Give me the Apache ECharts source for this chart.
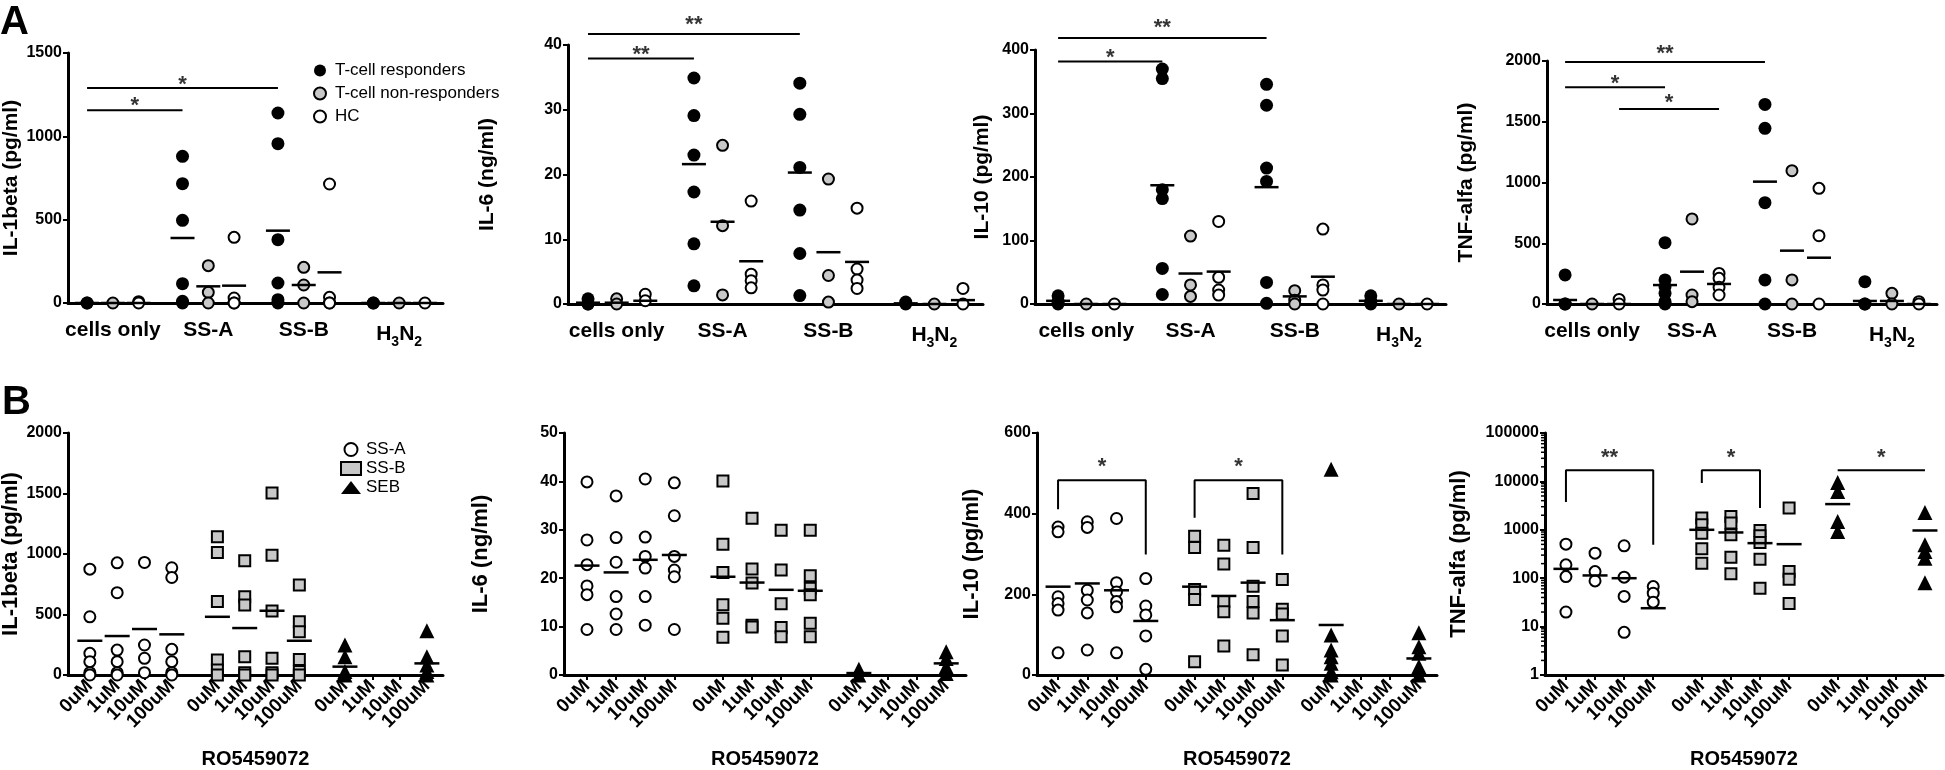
<!DOCTYPE html>
<html><head><meta charset="utf-8">
<script src="https://cdn.jsdelivr.net/npm/echarts@6/dist/echarts.min.js"></script>
<style>html,body{margin:0;padding:0;background:#fff}#c{width:1945px;height:770px}</style>
</head><body><div id="c"></div>
<script>
// ---------------- DATA ----------------
const A_GROUPS = ['cells only', 'SS-A', 'SS-B', 'H3N2'];
const A_SERIES = ['T-cell responders', 'T-cell non-responders', 'HC'];

// Panel A1: IL-1beta (pg/ml)
const A1_YTICKS = [0, 500, 1000, 1500];
const A1_RESP = [[0, 0], [880, 716, 496, 116, 10, 0], [1140, 956, 380, 120, 20, 0], [0, 0]];
const A1_RESP_LINE = [0, 390, 434, 0];
const A1_NONRESP = [[0], [224, 64, 0], [214, 108, 0], [0]];
const A1_NONRESP_LINE = [0, 100, 108, 0];
const A1_HC = [[8, 0], [394, 30, 0, 0], [714, 34, 0, 0], [0]];
const A1_HC_LINE = [0, 104, 184, 0];
const A1_SIG = [[0, 3, 1156, '*', 1210], [0, 6, 1290, '*', 1340]];

// Panel A2: IL-6 (ng/ml)
const A2_YTICKS = [0, 10, 20, 30, 40];
const A2_RESP = [[0.8, 0, 0], [34.9, 29.1, 23.0, 17.3, 9.3, 2.8], [34.1, 29.3, 21.1, 14.5, 7.8, 1.3], [0.3, 0]];
const A2_RESP_LINE = [0.2, 21.6, 20.3, 0.1];
const A2_NONRESP = [[0.8, 0], [24.5, 12.1, 1.4], [19.3, 4.4, 0.3], [0]];
const A2_NONRESP_LINE = [0.2, 12.7, 8.0, 0];
const A2_HC = [[1.5, 0.5], [15.9, 4.6, 3.6, 2.5], [14.8, 5.4, 3.7, 2.4], [2.4, 0]];
const A2_HC_LINE = [0.5, 6.6, 6.5, 0.6];
const A2_SIG = [[0, 3, 37.9, '**', 39.2], [0, 6, 41.7, '**', 43.9]];

// Panel A3: IL-10 (pg/ml)
const A3_YTICKS = [0, 100, 200, 300, 400];
const A3_RESP = [[13, 4, 0], [370, 355, 180, 166, 56, 15], [346, 313, 214, 193, 34, 1], [13, 4, 0]];
const A3_RESP_LINE = [5, 187, 184, 5];
const A3_NONRESP = [[0], [107, 30, 12], [21, 6, 0], [0]];
const A3_NONRESP_LINE = [0, 48, 12, 0];
const A3_HC = [[0], [130, 42, 22, 14], [118, 30, 22, 0], [0]];
const A3_HC_LINE = [0, 51, 43, 0];
const A3_SIG = [[0, 3, 382, '*', 395], [0, 6, 419, '**', 442]];

// Panel A4: TNF-alfa (pg/ml)
const A4_YTICKS = [0, 500, 1000, 1500, 2000];
const A4_RESP = [[239, 0, 0], [505, 198, 143, 88, 19, 0], [1643, 1446, 834, 198, 0], [184, 0, 0]];
const A4_RESP_LINE = [33, 156, 1007, 25];
const A4_NONRESP = [[0], [700, 74, 19], [1097, 198, 0], [88, 0]];
const A4_NONRESP_LINE = [0, 266, 439, 25];
const A4_HC = [[38, 0], [252, 211, 137, 74], [952, 562, 0], [19, 0]];
const A4_HC_LINE = [0, 165, 381, 0];
const A4_SIG = [[0, 6, 1992, '**', 2099], [0, 3, 1783, '*', 1852], [2, 5, 1605, '*', 1693]];

const B_SERIES = ['SS-A', 'SS-B', 'SEB'];
const B_DOSES = ['0uM', '1uM', '10uM', '100uM'];
const B_XNAME = 'RO5459072';

// Panel B1: IL-1beta (pg/ml)
const B1_YTICKS = [0, 500, 1000, 1500, 2000];
const B1_SSA = [[875, 481, 179, 110, 19, 0], [927, 680, 206, 110, 19, 0], [930, 248, 138, 19], [886, 806, 212, 110, 19, 0]];
const B1_SSA_LINE = [283, 322, 380, 336];
const B1_SSB = [[1142, 1012, 608, 124, 41, 0], [944, 646, 578, 151, 19, 0], [1505, 990, 528, 138, 19, 0], [743, 440, 358, 129, 28, 0]];
const B1_SSB_LINE = [481, 388, 531, 283];
const B1_SEB = [[248, 151, 28, 0], [], [], [366, 151, 83, 28, 0]];
const B1_SEB_LINE = [69, null, null, 96];
const B1_SIG = [];

// Panel B2: IL-6 (ng/ml)
const B2_YTICKS = [0, 10, 20, 30, 40, 50];
const B2_SSA = [[39.9, 27.9, 22.8, 18.4, 16.6, 9.4], [37.0, 28.4, 23.3, 16.2, 12.6, 9.4], [40.5, 28.5, 24.5, 22.1, 16.2, 10.3], [39.7, 32.9, 24.5, 21.7, 20.3, 9.4]];
const B2_SSA_LINE = [22.6, 21.2, 23.8, 24.8];
const B2_SSB = [[40.1, 27.0, 21.2, 14.5, 11.7, 7.8], [32.4, 21.9, 19.0, 10.3, 9.9], [29.9, 21.7, 14.7, 9.8, 7.9], [29.9, 20.5, 17.9, 16.6, 10.7, 7.9]];
const B2_SSB_LINE = [20.3, 19.1, 17.6, 17.4];
const B2_SEB = [[1.2, 0], [], [], [4.8, 3.4, 1.7, 0.3]];
const B2_SEB_LINE = [0.4, null, null, 2.4];
const B2_SIG = [];

// Panel B3: IL-10 (pg/ml)
const B3_YTICKS = [0, 200, 400, 600];
const B3_SSA = [[367, 355, 194, 177, 161, 55], [380, 366, 210, 186, 154, 62], [388, 229, 206, 182, 169, 55], [239, 171, 149, 97, 14]];
const B3_SSA_LINE = [219, 227, 210, 134];
const B3_SSB = [[344, 316, 212, 187, 33], [322, 275, 182, 157, 72], [450, 316, 220, 182, 154, 50], [237, 163, 151, 97, 25]];
const B3_SSB_LINE = [219, 196, 229, 136];
const B3_SEB = [[510, 99, 62, 45, 29, 8, 0], [], [], [105, 70, 54, 21, 0]];
const B3_SEB_LINE = [124, null, null, 41];
const B3_SIG = [[0, 3, 483, 411, 299, '*', 528], [4, 7, 483, 390, 299, '*', 528]];

// Panel B4: TNF-alfa (pg/ml), log scale
const B4_YTICKS = [1, 10, 100, 1000, 10000, 100000];
const B4_SSA = [[505, 189, 108, 20], [329, 137, 88], [467, 105, 42, 7.6], [67, 49, 32]];
const B4_SSA_LINE = [156, 114, 100, 24];
const B4_SSB = [[1743, 1268, 853, 405, 204], [1888, 1374, 788, 272, 123], [968, 751, 547, 247, 62], [2807, 137, 95, 30]];
const B4_SSB_LINE = [1000, 881, 530, 505];
const B4_SEB = [[9530, 6210, 1487, 924], [], [], [2285, 490, 356, 259, 81]];
const B4_SEB_LINE = [3396, null, null, 968];
const B4_SIG = [[0, 3, 16900, 3734, 490, '**', 38550], [4, 6, 16900, 9240, 2807, '*', 38550], [8, 11, 16900, 16900, 16900, '*', 38550]];
const B4_MINOR_TICKS = [2,3,4,5,6,7,8,9,20,30,40,50,60,70,80,90,200,300,400,500,600,700,800,900,2000,3000,4000,5000,6000,7000,8000,9000,20000,30000,40000,50000,60000,70000,80000,90000];

// ---------------- LAYOUT / STYLE ----------------
const FONT = '"Liberation Sans", Arial, Helvetica, sans-serif';
const A_STEP = 3.7, B_STEP = 4.67;
const GRIDS = [
  {left: 68, top: 53, width: 375, height: 250},
  {left: 568, top: 45, width: 415, height: 259},
  {left: 1035, top: 50, width: 411, height: 254},
  {left: 1547, top: 61, width: 390, height: 243},
  {left: 68, top: 433, width: 375, height: 242},
  {left: 564, top: 433, width: 402, height: 242},
  {left: 1037, top: 433, width: 400, height: 242},
  {left: 1545, top: 433, width: 398, height: 242}
];
const XRANGE = [[-0.74, 13.8], [-0.70, 13.8], [-0.82, 13.77], [-0.67, 13.77],
                [-0.8, 12.93], [-0.79, 13.02], [-0.72, 12.96], [-0.72, 12.96]];
const NAME_GAP = [46, 70, 42, 70, 46, 72, 54, 75];
const GREY = '#c8c8c8';

const A_STYLE = [
  {symbol: 'circle', size: 13, item: {color: '#000', borderColor: '#000', borderWidth: 0, opacity: 1}},
  {symbol: 'circle', size: 11, item: {color: GREY, borderColor: '#000', borderWidth: 2, opacity: 1}},
  {symbol: 'circle', size: 11, item: {color: '#fff', borderColor: '#000', borderWidth: 2, opacity: 1}}
];
const B_STYLE = [
  {symbol: 'circle', size: 11, item: {color: '#fff', borderColor: '#000', borderWidth: 2, opacity: 1}},
  {symbol: 'rect', size: 11, item: {color: GREY, borderColor: '#000', borderWidth: 2, opacity: 1}},
  {symbol: 'triangle', size: 15, item: {color: '#000', borderColor: '#000', borderWidth: 0, opacity: 1}}
];

const A_PANELS = [
  {name: 'IL-1beta (pg/ml)', ticks: A1_YTICKS, pts: [A1_RESP, A1_NONRESP, A1_HC], lines: [A1_RESP_LINE, A1_NONRESP_LINE, A1_HC_LINE], sig: A1_SIG},
  {name: 'IL-6 (ng/ml)', ticks: A2_YTICKS, pts: [A2_RESP, A2_NONRESP, A2_HC], lines: [A2_RESP_LINE, A2_NONRESP_LINE, A2_HC_LINE], sig: A2_SIG},
  {name: 'IL-10 (pg/ml)', ticks: A3_YTICKS, pts: [A3_RESP, A3_NONRESP, A3_HC], lines: [A3_RESP_LINE, A3_NONRESP_LINE, A3_HC_LINE], sig: A3_SIG},
  {name: 'TNF-alfa (pg/ml)', ticks: A4_YTICKS, pts: [A4_RESP, A4_NONRESP, A4_HC], lines: [A4_RESP_LINE, A4_NONRESP_LINE, A4_HC_LINE], sig: A4_SIG}
];
const B_PANELS = [
  {name: 'IL-1beta (pg/ml)', ticks: B1_YTICKS, pts: [B1_SSA, B1_SSB, B1_SEB], lines: [B1_SSA_LINE, B1_SSB_LINE, B1_SEB_LINE], sig: B1_SIG},
  {name: 'IL-6 (ng/ml)', ticks: B2_YTICKS, pts: [B2_SSA, B2_SSB, B2_SEB], lines: [B2_SSA_LINE, B2_SSB_LINE, B2_SEB_LINE], sig: B2_SIG},
  {name: 'IL-10 (pg/ml)', ticks: B3_YTICKS, pts: [B3_SSA, B3_SSB, B3_SEB], lines: [B3_SSA_LINE, B3_SSB_LINE, B3_SEB_LINE], sig: B3_SIG},
  {name: 'TNF-alfa (pg/ml)', ticks: B4_YTICKS, pts: [B4_SSA, B4_SSB, B4_SEB], lines: [B4_SSA_LINE, B4_SSB_LINE, B4_SEB_LINE], sig: B4_SIG, log: true}
];

const posA = (g, i) => g * A_STEP + i;
const posB = (g, i) => g * B_STEP + i;
const idxA = k => posA(Math.floor(k / 3), k % 3);
const idxB = k => posB(Math.floor(k / 4), k % 4);

const tickLabelStyle = {fontSize: 16, fontWeight: 'bold', color: '#000', fontFamily: FONT};

const grid = GRIDS.map(g => Object.assign({containLabel: false, outerBoundsMode: 'none'}, g));
const xAxis = [], yAxis = [], series = [];

function makeYAxis(p, panel, nameSize) {
  const t = panel.ticks;
  const ax = {
    gridIndex: p, name: panel.name, nameLocation: 'middle', nameGap: NAME_GAP[p],
    nameTextStyle: {fontSize: nameSize, fontWeight: 'bold', color: '#000', fontFamily: FONT},
    axisLine: {show: true, onZero: false, lineStyle: {color: '#000', width: 3}},
    axisTick: {show: true, length: 5, lineStyle: {color: '#000', width: 2}},
    axisLabel: Object.assign({margin: 6, formatter: v => String(v)}, tickLabelStyle),
    splitLine: {show: false}, min: t[0], max: t[t.length - 1]
  };
  if (panel.log) { ax.type = 'log'; ax.logBase = 10; }
  else { ax.type = 'value'; ax.interval = t[1] - t[0]; }
  return ax;
}

function addSig(p, sig, posFn, isBracket) {
  sig.forEach(s => {
    let x1 = posFn(s[0]), x2 = posFn(s[1]), data, txt, ty;
    if (isBracket) {
      data = [[x1, s[3]], [x1, s[2]], [x2, s[2]], [x2, s[4]]];
      txt = s[5]; ty = s[6];
    } else {
      data = [[x1, s[2]], [x2, s[2]]];
      txt = s[3]; ty = s[4];
    }
    series.push({type: 'line', xAxisIndex: p, yAxisIndex: p, data, symbol: 'none', clip: false, silent: true, z: 5,
      lineStyle: {color: '#000', width: 2}, animation: false});
    series.push({type: 'scatter', xAxisIndex: p, yAxisIndex: p, data: [[(x1 + x2) / 2, ty]], symbolSize: 1, clip: false, silent: true, z: 6,
      itemStyle: {color: 'rgba(0,0,0,0)'},
      label: {show: true, position: 'inside', formatter: txt, fontSize: 22, fontWeight: 'bold', color: '#000', fontFamily: FONT, offset: [0, 5]}});
  });
}

// Row A
A_PANELS.forEach((panel, p) => {
  xAxis.push({
    type: 'value', gridIndex: p, min: XRANGE[p][0], max: XRANGE[p][1],
    axisLine: {show: true, onZero: false, lineStyle: {color: '#000', width: 3}},
    axisTick: {show: false}, splitLine: {show: false},
    axisLabel: {
      customValues: A_GROUPS.map((_, g) => posA(g, 1)),
      formatter: v => {
        const g = Math.round((v - 1) / A_STEP);
        const n = A_GROUPS[g] || '';
        return /^H\d/.test(n) ? n.replace(/(\d)/g, '{s|$1}') : n;
      },
      margin: 17, fontSize: 21, fontWeight: 'bold', color: '#000', fontFamily: FONT,
      rich: {s: {fontSize: 14, fontWeight: 'bold', color: '#000', fontFamily: FONT, padding: [15, 0, 0, 0]}}
    }
  });
  yAxis.push(makeYAxis(p, panel, 21));
  panel.pts.forEach((groups, t) => {
    const st = A_STYLE[t];
    series.push({type: 'scatter', name: A_SERIES[t], xAxisIndex: p, yAxisIndex: p, symbol: st.symbol, symbolSize: st.size,
      itemStyle: st.item, clip: false, silent: true, z: 3,
      data: groups.flatMap((vals, g) => vals.map(v => [posA(g, t), v]))});
  });
  panel.lines.forEach((vals, t) => {
    series.push({type: 'scatter', xAxisIndex: p, yAxisIndex: p, symbol: 'rect', symbolSize: [24, 2.5],
      itemStyle: {color: '#000', opacity: 1}, clip: false, silent: true, z: 4,
      data: vals.map((v, g) => v == null ? null : [posA(g, t), v]).filter(d => d)});
  });
  addSig(p, panel.sig, idxA, false);
});

// Row B
B_PANELS.forEach((panel, k) => {
  const p = k + 4;
  const positions = [];
  B_SERIES.forEach((_, g) => B_DOSES.forEach((_, i) => positions.push(posB(g, i))));
  xAxis.push({
    type: 'value', gridIndex: p, min: XRANGE[p][0], max: XRANGE[p][1],
    name: B_XNAME, nameLocation: 'middle', nameGap: 74,
    nameTextStyle: {fontSize: 20, fontWeight: 'bold', color: '#000', fontFamily: FONT},
    axisLine: {show: true, onZero: false, lineStyle: {color: '#000', width: 3}},
    axisTick: {show: true, customValues: positions, length: 5, lineStyle: {color: '#000', width: 2}},
    splitLine: {show: false},
    axisLabel: {
      customValues: positions, rotate: 45, margin: 8,
      formatter: v => {
        let best = 0;
        positions.forEach((q, j) => { if (Math.abs(q - v) < Math.abs(positions[best] - v)) best = j; });
        return B_DOSES[best % 4];
      },
      fontSize: 19, fontWeight: 'bold', color: '#000', fontFamily: FONT
    }
  });
  yAxis.push(makeYAxis(p, panel, 22));
  panel.pts.forEach((groups, t) => {
    const st = B_STYLE[t];
    series.push({type: 'scatter', name: B_SERIES[t], xAxisIndex: p, yAxisIndex: p, symbol: st.symbol, symbolSize: st.size,
      itemStyle: st.item, clip: false, silent: true, z: 3,
      data: groups.flatMap((vals, i) => vals.map(v => [posB(t, i), v]))});
  });
  panel.lines.forEach((vals, t) => {
    series.push({type: 'scatter', xAxisIndex: p, yAxisIndex: p, symbol: 'rect', symbolSize: [25, 2.5],
      itemStyle: {color: '#000', opacity: 1}, clip: false, silent: true, z: 4,
      data: vals.map((v, i) => v == null ? null : [posB(t, i), v]).filter(d => d)});
  });
  addSig(p, panel.sig, idxB, true);
  if (panel.log) {
    series.push({type: 'custom', xAxisIndex: p, yAxisIndex: p, clip: false, silent: true, z: 2,
      data: B4_MINOR_TICKS.map(v => [XRANGE[p][0], v]),
      renderItem: (params, api) => {
        const c = api.coord([api.value(0), api.value(1)]);
        return {type: 'line', shape: {x1: c[0] - 4, y1: c[1], x2: c[0], y2: c[1]}, style: {stroke: '#000', lineWidth: 1.5}};
      }});
  }
});

const option = {
  animation: false,
  textStyle: {fontFamily: FONT},
  grid, xAxis, yAxis, series,
  legend: [
    {data: A_SERIES, orient: 'vertical', left: 308, top: 57, itemWidth: 20, itemHeight: 12, itemGap: 6,
     textStyle: {fontSize: 17, color: '#000', fontFamily: FONT}, selectedMode: false},
    {data: B_SERIES, orient: 'vertical', left: 335, top: 436, itemWidth: 20, itemHeight: 13, itemGap: 2,
     textStyle: {fontSize: 17, color: '#000', fontFamily: FONT}, selectedMode: false}
  ],
  graphic: [
    {type: 'text', left: 0, top: 3, style: {text: 'A', fontSize: 40, fontWeight: 'bold', fill: '#000', fontFamily: FONT}},
    {type: 'text', left: 2, top: 383, style: {text: 'B', fontSize: 40, fontWeight: 'bold', fill: '#000', fontFamily: FONT}}
  ]
};

const chart = echarts.init(document.getElementById('c'), null, {renderer: 'canvas'});
chart.setOption(option);
</script></body></html>
